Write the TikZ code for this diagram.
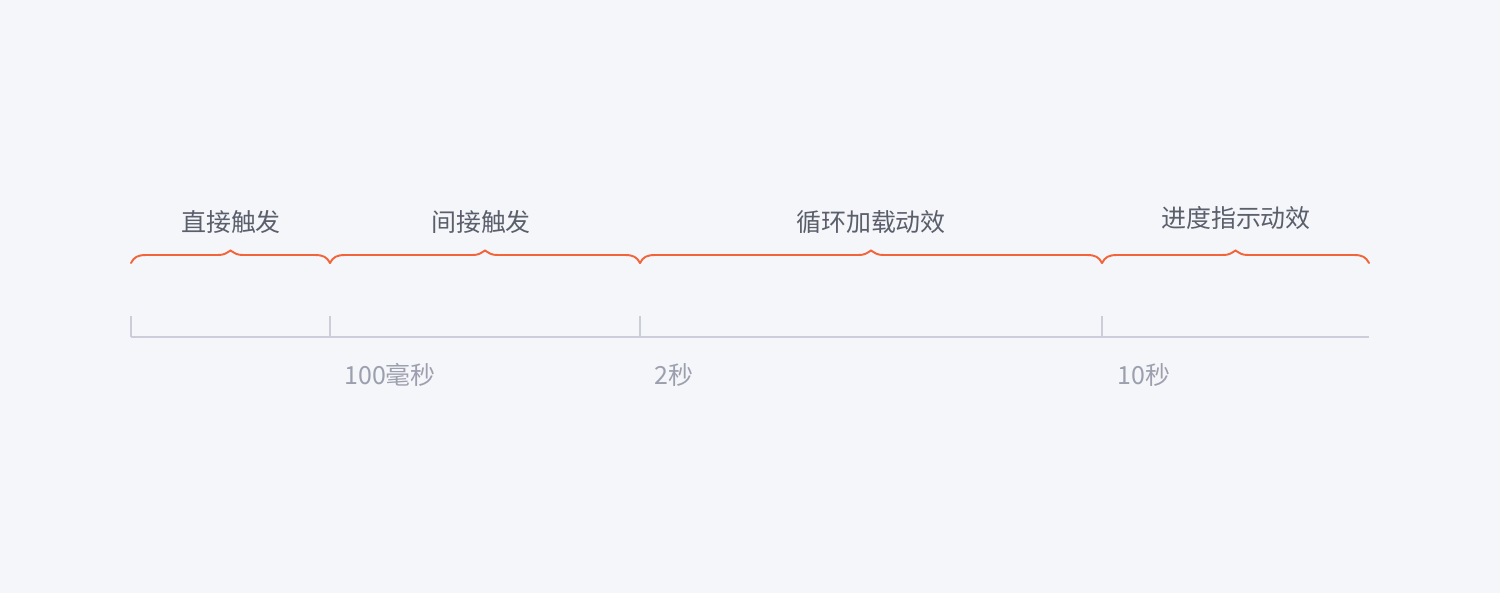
\documentclass[tikz,border=0pt]{standalone}
\usepackage{fontspec}
\newfontfamily\cjk{Noto Sans CJK SC}
\usetikzlibrary{calc}
\definecolor{bgcol}{HTML}{F5F6FA}
\definecolor{axiscol}{HTML}{CBCDD9}
\definecolor{bracecol}{HTML}{F2643A}
\definecolor{namecol}{HTML}{5B5F6C}
\definecolor{timecol}{HTML}{9C9FAE}
\tikzset{
  phase/.style={font=\cjk\fontsize{14.2}{17}\selectfont, text=namecol, inner sep=0pt},
  time/.style={font=\cjk\fontsize{14.2}{17}\selectfont, text=timecol, inner sep=0pt, anchor=west},
  span/.style={draw=bracecol, line width=1.1pt, line cap=round, to path={
    .. controls +(3,-6) and +(-8,0) .. ($(\tikztostart)+(15,-8)$)
    -- ($(\tikztostart)!.5!(\tikztotarget)+(-13,-8)$)
    .. controls +(7,0) and +(-5,3) .. ($(\tikztostart)!.5!(\tikztotarget)+(0,-12.5)$)
    .. controls +(5,3) and +(-7,0) .. ($(\tikztostart)!.5!(\tikztotarget)+(13,-8)$)
    -- ($(\tikztotarget)+(-15,-8)$)
    .. controls +(8,0) and +(-3,-6) .. (\tikztotarget)}},
  tickline/.style={draw=axiscol, line width=0.9pt}
}
\begin{document}
\begin{tikzpicture}[x=0.02cm, y=-0.02cm]
  \fill[bgcol] (0,0) rectangle (1500,593);
  \draw
    (131,337) coordinate (t0)
    (330,337) coordinate (t1)
    (640,337) coordinate (t2)
    (1102,337) coordinate (t3)
    (1369,337) coordinate (t4)
    (131,263) coordinate (b0)
    (330,263) coordinate (b1)
    (640,263) coordinate (b2)
    (1102,263) coordinate (b3)
    (1369,263) coordinate (b4);
  \node[phase] (direct) at (231,222) {直接触发};
  \node[phase] (indirect) at (481,222) {间接触发};
  \node[phase] (loop) at (871,222) {循环加载动效};
  \node[phase] (progress) at (1236,218) {进度指示动效};
  \node[time] (ms100) at (344,375) {100毫秒};
  \node[time] (s2) at (654,375) {2秒};
  \node[time] (s10) at (1117,375) {10秒};
  \begin{scope}[tickline]
    \draw (t0) -- (t4);
    \draw (t0) -- +(0,-21);
    \draw (t1) -- +(0,-21);
    \draw (t2) -- +(0,-21);
    \draw (t3) -- +(0,-21);
  \end{scope}
  \draw[span] (b0) to (b1);
  \draw[span] (b1) to (b2);
  \draw[span] (b2) to (b3);
  \draw[span] (b3) to (b4);
\end{tikzpicture}
\end{document}
